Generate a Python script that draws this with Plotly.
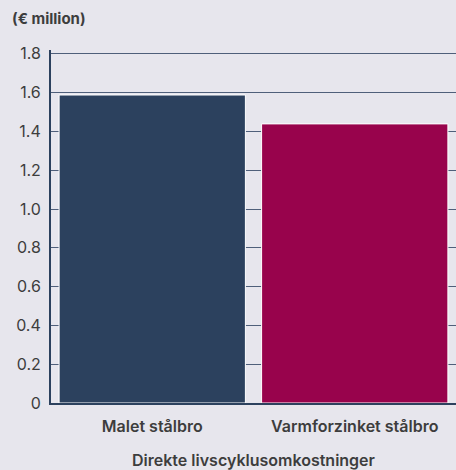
import plotly.graph_objects as go

categories = ["Malet stålbro", "Varmforzinket stålbro"]
values = [1.588, 1.439]
colors = ["#2c415e", "#98034c"]
tick_vals = [0, 0.2, 0.4, 0.6, 0.8, 1.0, 1.2, 1.4, 1.6, 1.8]
tick_text = ["0", "0.2", "0.4", "0.6", "0.8", "1.0", "1.2", "1.4", "1.6", "1.8"]

FONT = "Inter"
TXT = "#3d3d3d"
bg = "#e7e6ed"
fig = go.Figure(go.Bar(
    x=categories, y=values,
    marker=dict(color=colors, line=dict(color="#ffffff", width=1)),
    width=0.92,
))
fig.update_layout(
    width=456, height=470,
    margin=dict(l=51, r=0, t=50, b=67),
    paper_bgcolor=bg, plot_bgcolor=bg,
    font=dict(family=FONT, size=15, color=TXT),
    showlegend=False,
)
fig.layout.annotations = [dict(
    text="(€ million)", xref="paper", yref="paper",
    x=-41/405, y=1 + 31/353, xanchor="left", yanchor="middle",
    showarrow=False, font=dict(family=FONT, size=15, color=TXT, weight=700),
)]
fig.update_xaxes(
    showgrid=False, showline=True, linecolor="#2c415e", linewidth=2,
    tickfont=dict(size=16, color=TXT, family=FONT, weight=600),
    ticklabelstandoff=8,
    title=dict(text="Direkte livscyklusomkostninger",
               font=dict(size=16, color=TXT, family=FONT, weight=600), standoff=22),
)
fig.update_yaxes(
    range=[0, 1.82], tickvals=tick_vals, ticktext=tick_text,
    showgrid=True, gridcolor="#4f5f7a", gridwidth=1,
    showline=True, linecolor="#2c415e", linewidth=2,
    zeroline=False, ticks="", ticklabelstandoff=5,
    tickfont=dict(size=16, color=TXT, family=FONT, weight=400),
)
fig.write_html("out.html")
